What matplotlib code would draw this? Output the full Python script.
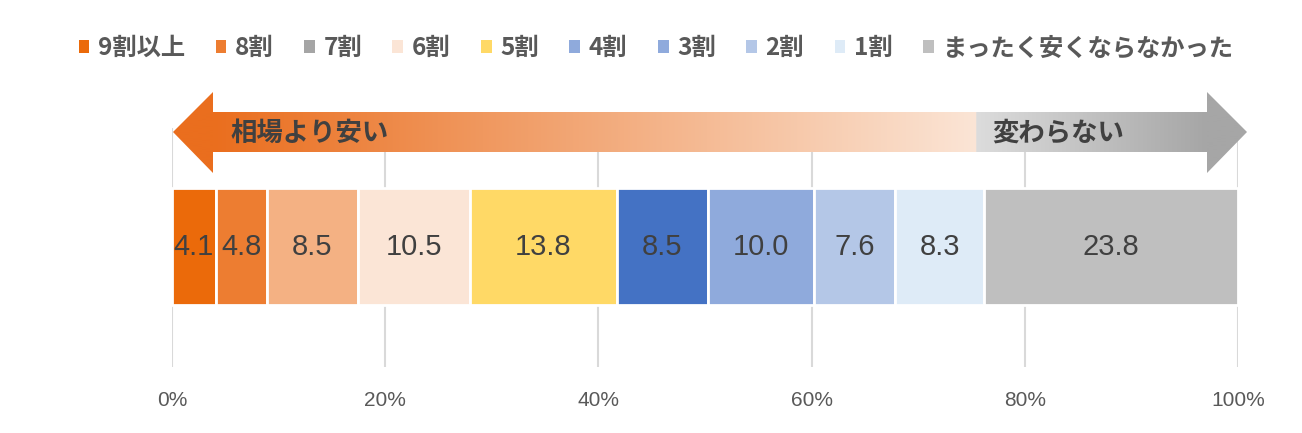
import matplotlib
matplotlib.use('Agg')
import matplotlib.pyplot as plt
import numpy as np
from matplotlib.patches import Patch, Polygon
from matplotlib.colors import to_rgb

plt.rcParams['font.family'] = ['Noto Sans CJK JP', 'DejaVu Sans']

# data
categories = ['9割以上', '8割', '7割', '6割', '5割', '4割', '3割', '2割', '1割', 'まったく安くならなかった']
values = [4.1, 4.8, 8.5, 10.5, 13.8, 8.5, 10.0, 7.6, 8.3, 23.8]
bar_colors = ['#EB6A0A', '#ED7D31', '#F4B183', '#FBE5D6', '#FFD966',
              '#4472C4', '#8FAADC', '#B4C7E7', '#DEEBF7', '#BFBFBF']
legend_colors = ['#EB6A0A', '#ED7D31', '#A5A5A5', '#FBE5D6', '#FFD966',
                 '#8FAADC', '#8FAADC', '#B4C7E7', '#DEEBF7', '#BFBFBF']
ticks = [0, 20, 40, 60, 80, 100]
arrow_labels = ['相場より安い', '変わらない']

W, H = 1302, 433
fig = plt.figure(figsize=(W / 100, H / 100), dpi=100)

# main axes (pixel positions)
ax = fig.add_axes([172 / W, 1 - 367 / H, (1238 - 172) / W, (367 - 128) / H])
vals = np.array(values)
pct = vals / vals.sum() * 100
lefts = np.concatenate([[0], np.cumsum(pct)[:-1]])
ax.barh(0, pct, left=lefts, height=1.0, color=bar_colors,
        edgecolor='white', linewidth=2, zorder=3)
for l, p, v in zip(lefts, pct, values):
    ax.text(l + p / 2, 0, f'{v:.1f}', ha='center', va='center',
            fontsize=21, color='#404040', family='Liberation Sans', zorder=4)

ax.set_xlim(0, 100)
ax.set_ylim(-1.03, 1.013)
ax.set_xticks(ticks)
ax.set_xticklabels([f'{t}%' for t in ticks], fontsize=15, color='#595959',
                   family='Liberation Sans')
ax.tick_params(axis='x', length=0, pad=17)
ax.set_yticks([])
ax.grid(axis='x', color='#D9D9D9', linewidth=1.5, zorder=0)
for s in ax.spines.values():
    s.set_visible(False)

# legend
handles = [Patch(facecolor=c, edgecolor='none') for c in legend_colors]
fig.legend(handles, categories, loc='center', bbox_to_anchor=(656 / W, 1 - 48 / H),
           ncol=10, frameon=False, handlelength=0.45, handleheight=0.45,
           handletextpad=0.35, columnspacing=1.25,
           prop={'size': 17.5, 'weight': 'bold'}, labelcolor='#595959')

# arrow overlay in pixel coordinates
ov = fig.add_axes([0, 0, 1, 1], zorder=5)
ov.set_xlim(0, W)
ov.set_ylim(H, 0)
ov.axis('off')
ov.patch.set_alpha(0)

x_tip_l, x_base_l, x_split, x_base_r, x_tip_r = 173, 213, 977, 1207, 1247
y_shaft_t, y_shaft_b, y_head_t, y_head_b = 112, 152, 92, 173
y_mid = (y_shaft_t + y_shaft_b) / 2
pts = [(x_tip_l, y_mid), (x_base_l, y_head_t), (x_base_l, y_shaft_t),
       (x_base_r, y_shaft_t), (x_base_r, y_head_t), (x_tip_r, y_mid),
       (x_base_r, y_head_b), (x_base_r, y_shaft_b), (x_base_l, y_shaft_b),
       (x_base_l, y_head_b)]
poly = Polygon(pts, closed=True, facecolor='none', edgecolor='none')
ov.add_patch(poly)

xs = np.arange(x_tip_l, x_tip_r + 1)
o1, o2 = np.array(to_rgb('#EA6E1E')), np.array(to_rgb('#FBE5D6'))
g1, g2 = np.array(to_rgb('#DCDCDC')), np.array(to_rgb('#A6A6A6'))
grad = np.zeros((1, len(xs), 3))
for i, x in enumerate(xs):
    if x < x_base_l:
        c = o1
    elif x < x_split:
        t = (x - x_base_l) / (x_split - x_base_l)
        c = o1 + (o2 - o1) * t
    elif x < x_base_r:
        t = (x - x_split) / (x_base_r - x_split)
        c = g1 + (g2 - g1) * t
    else:
        c = g2
    grad[0, i] = c
im = ov.imshow(grad, extent=(x_tip_l, x_tip_r, y_head_b, y_head_t),
               aspect='auto', interpolation='bilinear')
im.set_clip_path(poly)
ov.set_xlim(0, W)
ov.set_ylim(H, 0)

ov.text(230, y_mid + 1, arrow_labels[0], ha='left', va='center',
        fontsize=19, fontweight='bold', color='#404040')
ov.text(992, y_mid + 1, arrow_labels[1], ha='left', va='center',
        fontsize=19, fontweight='bold', color='#404040')

fig.savefig('out.png', dpi=100)
